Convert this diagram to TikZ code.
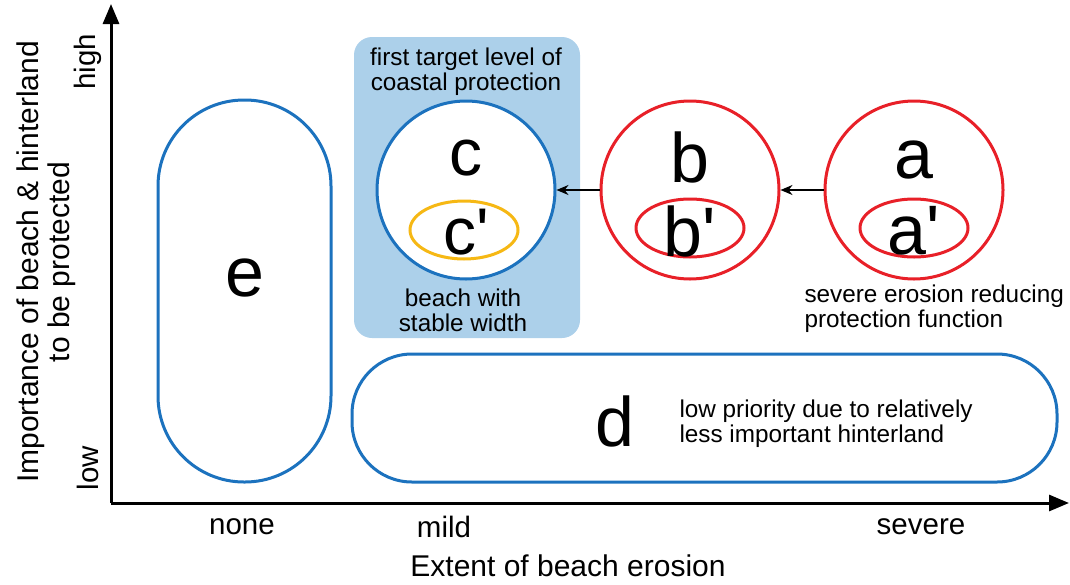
\documentclass[tikz,border=0pt]{standalone}
\usepackage{fontspec}
\setmainfont{Liberation Sans}
\usetikzlibrary{arrows.meta,shapes.geometric}

\definecolor{zoneblue}{RGB}{28,114,190}
\definecolor{targetfill}{RGB}{172,208,234}
\definecolor{erosred}{RGB}{232,32,40}
\definecolor{stableyellow}{RGB}{246,184,20}

\newcommand{\prm}{\textquotesingle}

\tikzset{
  axisline/.style={line width=3pt,-{Triangle[length=20pt,width=16pt]}},
  ticklabel/.style={font=\fontsize{29.5}{32}\selectfont},
  axistitle/.style={font=\fontsize{30}{31}\selectfont,align=center},
  note/.style={font=\fontsize{24.3}{25}\selectfont,align=center},
  bigletter/.style={font=\fontsize{70}{70}\selectfont,inner sep=0pt},
  midletter/.style={font=\fontsize{66}{66}\selectfont,inner sep=0pt},
  zone/.style={draw=zoneblue,line width=3pt,fill=white},
  statecircle/.style={circle,line width=3pt,fill=white,minimum size=178pt,inner sep=0pt},
  subellipse/.style={ellipse,line width=3pt,minimum width=108pt,minimum height=58pt,inner sep=0pt},
  shiftarrow/.style={line width=1.6pt,-{Stealth[length=12pt,width=10pt]}}
}

\begin{document}
\begin{tikzpicture}[x=1pt,y=-1pt]
\useasboundingbox (0,0) rectangle (1070,584);

% axes
\coordinate (O) at (111,503);
\coordinate (ytop) at (111,4);
\coordinate (xend) at (1069,503);
\draw[axisline] (O) -- (ytop);
\draw[axisline] (O) -- (xend);

% axis labels
\node[ticklabel,rotate=90] (high) at (88,62) {high};
\node[ticklabel,rotate=90] (low) at (88,468) {low};
\node[axistitle,rotate=90] (ytitle) at (46,262) {Importance of beach \& hinterland\\to be protected};
\node[ticklabel] (none) at (242,527) {none};
\node[ticklabel] (mild) at (444,527) {mild};
\node[ticklabel] (severe) at (921,527) {severe};
\node[axistitle] (xtitle) at (568,566) {Extent of beach erosion};

% zone e
\node[zone,rectangle,rounded corners=86pt,minimum width=173pt,minimum height=382pt] (zoneE) at (244.5,291) {};
\node[bigletter] (labE) at (245,278) {e};

% zone d
\node[zone,rectangle,rounded corners=60pt,minimum width=705pt,minimum height=128pt] (zoneD) at (704.5,418) {};
\node[bigletter] (labD) at (615,421) {d};
\node[note,align=left,anchor=west] (noteD) at (676,424) {low priority due to relatively\\less important hinterland};

% first target level panel
\node[rectangle,rounded corners=18pt,fill=targetfill,minimum width=226pt,minimum height=301pt] (target) at (467,187.5) {};
\node[note] (targetTitle) at (466,72) {first target level of\\coastal protection};
\node[note] (targetNote) at (463,310) {beach with\\stable width};

% state c
\node[statecircle,draw=zoneblue] (C) at (466,190) {};
\node[midletter] (labC) at (466,158) {c};
\node[subellipse,draw=stableyellow] (Cin) at (464,230) {};
\node[midletter] (labCp) at (466,232) {c\prm};

% state b
\node[statecircle,draw=erosred] (B) at (690,190) {};
\node[bigletter] (labB) at (690,157) {b};
\node[subellipse,draw=erosred] (Bin) at (690,228) {};
\node[bigletter] (labBp) at (690,231) {b\prm};

% state a
\node[statecircle,draw=erosred] (A) at (914,190) {};
\node[bigletter] (labA) at (914,160) {a};
\node[subellipse,draw=erosred] (Ain) at (914,228) {};
\node[bigletter] (labAp) at (914,231) {a\prm};
\node[note,align=left,anchor=west] (noteA) at (801,309) {severe erosion reducing\\protection function};

% improvement steps
\draw[shiftarrow] (B.west) -- (C.east);
\draw[shiftarrow] (A.west) -- (B.east);
\end{tikzpicture}
\end{document}
